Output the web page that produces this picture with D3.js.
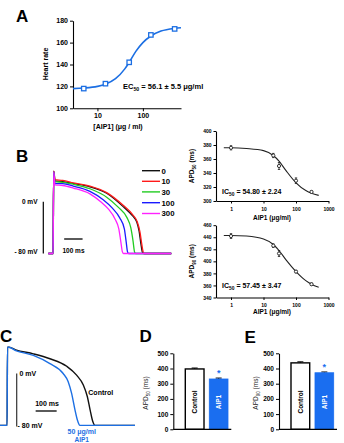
<!DOCTYPE html>
<html><head><meta charset="utf-8">
<script src="https://cdn.jsdelivr.net/npm/d3@7"></script>
<style>
html,body{margin:0;padding:0;background:#fff;}
svg{display:block;font-family:Arial,"Liberation Sans",sans-serif;}
</style></head><body>
<svg id="c" width="344" height="443"></svg>
<script>
// ---------- Panel A data ----------
const hrConc = [5, 15, 50, 150, 500];
const hrValues = [118, 122.5, 142, 167, 172.5];
const hrErr = [1, 1, 1.5, 1.5, 1.5];
const hrFitConc = [2.9, 5, 10, 15, 25, 40, 50, 70, 100, 150, 250, 500, 690];
const hrFitValues = [118, 118.5, 120, 122, 127, 136, 142, 152, 160, 166, 170.5, 173, 173.5];
const hrYTicks = [100, 120, 140, 160, 180];
const hrXTicks = [10, 100];

// ---------- Panel B traces (ms, mV) ----------
const bLegend = ["0", "10", "30", "100", "300"];
const bColors = ["#111111", "#ff1a1a", "#22cc22", "#1a1aff", "#ff22ff"];
const trace0 = [[-28,-80],[-2,-80],[1,47],[4,42],[8,32],[50,31],[108,28],[198,23],[289,13],[380,-8],[430,-22],[452,-31],[465,-45],[475,-65],[483,-78],[490,-80],[640,-80]];
const trace10 = [[-28,-80],[-2,-80],[1,47],[4,43],[8,34],[50,33],[108,29],[198,24],[289,14],[380,-6],[430,-20],[455,-31],[470,-47],[480,-66],[488,-78],[495,-80],[640,-80]];
const trace30 = [[-28,-80],[-2,-80],[1,46],[4,40],[8,31],[50,30],[108,27],[198,20],[289,7],[350,-8],[400,-25],[420,-40],[432,-60],[440,-77],[446,-80],[640,-80]];
const trace100 = [[-28,-80],[-2,-80],[1,46],[4,39],[8,28],[50,28],[108,24],[198,16],[270,3],[320,-10],[360,-25],[385,-42],[395,-62],[402,-77],[408,-80],[640,-80]];
const trace300 = [[-28,-80],[-2,-80],[1,46],[4,38],[8,26],[50,25],[108,21],[198,12],[260,-1],[300,-12],[335,-27],[355,-42],[366,-62],[374,-77],[380,-80],[640,-80]];
const bTraces = [trace0, trace10, trace30, trace100, trace300];

// ---------- Panel B dose-response ----------
const drConc = [1, 20, 30, 100, 300];
const apd50Values = [376, 365, 350, 329, 313];
const apd50Err = [3, 3, 5, 4, 1.5];
const apd90Values = [442, 426, 413, 383, 362];
const apd90Err = [4, 3, 5, 2, 2];
const fitConc = [0.6, 1, 3, 10, 20, 30, 50, 100, 200, 300, 500];
const apd50Fit = [376, 376, 375, 372, 365, 357, 343, 326, 315, 311, 308];
const apd90Fit = [443, 443, 442, 437, 428, 418, 402, 383, 368, 362, 357];
const drXTicks = [1, 10, 100, 1000];
const apd50Ticks = [300, 320, 340, 360, 380, 400];
const apd90Ticks = [340, 360, 380, 400, 420, 440, 460];

// ---------- Panel C traces ----------
const cControl = [[-40,-79],[-1,-79],[1,40],[8,40],[40,36],[124,30],[203,22.5],[283,11],[330,-2.5],[362,-17.5],[381,-35],[394,-55],[406,-72],[417,-79],[608,-79]];
const cAIP1 = [[-40,-79],[-1,-79],[1,40],[8,40],[40,35],[124,27.5],[203,15],[266,0],[290,-12.5],[306,-30],[322,-55],[333,-70],[346,-79],[608,-79]];

// ---------- Panels D / E ----------
const barGroups = ["Control", "AIP1"];
const dValues = [397, 331];
const dErr = [6, 6];
const eValues = [437, 372];
const eErr = [7, 5];
const barTicks = [0, 100, 200, 300, 400, 500];

const BLUE = "#1c6fe3";
const BARBLUE = "#1a6ef0";
const svg = d3.select("#c");
svg.append("rect").attr("width",344).attr("height",443).attr("fill","#fff");

function styleAxis(g, fs, bold=true) {
  g.select(".domain").attr("stroke","#000").attr("stroke-width",1.1);
  g.selectAll(".tick line").attr("stroke","#000").attr("stroke-width",1);
  g.selectAll(".tick text").attr("fill","#000").attr("font-size",fs)
    .attr("font-weight", bold ? "bold" : "normal").attr("font-family","Arial, 'Liberation Sans', sans-serif");
}
function letter(t, x, y) {
  svg.append("text").attr("x",x).attr("y",y).text(t)
    .attr("font-size",17).attr("font-weight","bold").attr("fill","#000");
}
function subText(g, x, y, pre, sub, post, fs, opts={}) {
  const t = g.append("text").attr("x",x).attr("y",y).attr("font-size",fs)
    .attr("font-weight", opts.weight || "bold").attr("fill", opts.fill || "#000")
    .attr("text-anchor", opts.anchor || "start");
  if (opts.rotate) t.attr("transform",`rotate(-90 ${x} ${y})`);
  t.append("tspan").text(pre);
  t.append("tspan").text(sub).attr("font-size",fs*0.7).attr("dy",fs*0.3);
  t.append("tspan").text(post).attr("dy",-fs*0.3);
  return t;
}

// ================= Panel A =================
letter("A", 16, 22);
{
  const x = d3.scaleLog().domain([2.9, 690]).range([73, 181]);
  const y = d3.scaleLinear().domain([100, 180]).range([108.3, 20.7]);
  const g = svg.append("g");
  const ya = g.append("g").attr("transform","translate(73,0)")
    .call(d3.axisLeft(y).tickValues(hrYTicks).tickSize(3).tickPadding(2).tickSizeOuter(0));
  styleAxis(ya, 7);
  const xa = g.append("g").attr("transform","translate(0,108.3)")
    .call(d3.axisBottom(x).tickValues(hrXTicks).tickFormat(d3.format("d")).tickSize(3).tickPadding(2).tickSizeOuter(0));
  styleAxis(xa, 7);
  const fit = hrFitConc.map((c,i)=>[c, hrFitValues[i]]);
  g.append("path").datum(fit).attr("fill","none").attr("stroke",BLUE).attr("stroke-width",1.6)
    .attr("d", d3.line().x(d=>x(d[0])).y(d=>y(d[1])).curve(d3.curveMonotoneX));
  hrConc.forEach((c,i)=>{
    g.append("line").attr("x1",x(c)).attr("x2",x(c))
      .attr("y1",y(hrValues[i]-hrErr[i])).attr("y2",y(hrValues[i]+hrErr[i]))
      .attr("stroke",BLUE).attr("stroke-width",1);
    g.append("rect").attr("x",x(c)-2.2).attr("y",y(hrValues[i])-2.2).attr("width",4.4).attr("height",4.4)
      .attr("fill","#fff").attr("stroke",BLUE).attr("stroke-width",1.3);
  });
  g.append("text").attr("transform","translate(46,64) rotate(-90)").attr("text-anchor","middle")
    .attr("dy","0.35em").attr("font-size",7).attr("font-weight","bold").text("Heart rate");
  g.append("text").attr("x",118).attr("y",127).attr("text-anchor","middle").attr("dy","0.35em")
    .attr("font-size",7).attr("font-weight","bold").text("[AIP1] (μg / ml)");
  subText(g, 123, 88.5, "EC", "50", " = 56.1 ± 5.5 μg/ml", 7.5);
}

// ================= Panel B traces =================
letter("B", 16, 162);
{
  const t = d3.scaleLinear().domain([0, 100]).range([53.5, 71.9]);
  const v = d3.scaleLinear().domain([-80, 0]).range([253.5, 201.7]);
  const g = svg.append("g");
  const line = d3.line().x(d=>t(d[0])).y(d=>v(d[1])).curve(d3.curveMonotoneX);
  bTraces.forEach((tr,i)=>{
    g.append("path").datum(tr).attr("fill","none").attr("stroke",bColors[i]).attr("stroke-width",1.3).attr("d",line);
  });
  const ly = [170.7, 181.3, 191.9, 202.7, 213.5];
  bLegend.forEach((lab,i)=>{
    g.append("line").attr("x1",142).attr("x2",160).attr("y1",ly[i]).attr("y2",ly[i])
      .attr("stroke",bColors[i]).attr("stroke-width",1.4);
    g.append("text").attr("x",161.5).attr("y",ly[i]).attr("dy","0.36em").attr("font-size",7.8)
      .attr("font-weight","bold").text(lab);
  });
  g.append("line").attr("x1",43.3).attr("x2",43.3).attr("y1",v(0)).attr("y2",v(-80)).attr("stroke","#000").attr("stroke-width",1.2);
  g.append("line").attr("x1",t(58)).attr("x2",t(158)).attr("y1",239).attr("y2",239).attr("stroke","#000").attr("stroke-width",1.3);
  g.append("text").attr("x",37.5).attr("y",v(0)).attr("dy","0.35em").attr("text-anchor","end").attr("font-size",6.5).attr("font-weight","bold").text("0 mV");
  g.append("text").attr("x",37.5).attr("y",252).attr("dy","0.35em").attr("text-anchor","end").attr("font-size",6.5).attr("font-weight","bold").text("- 80 mV");
  g.append("text").attr("x",73.5).attr("y",251).attr("dy","0.35em").attr("text-anchor","middle").attr("font-size",6.5).attr("font-weight","bold").text("100 ms");
}

// ================= Panel B dose-response =================
function drChart(yDom, yRange, ticks, vals, errs, fitVals, labSub, icText, icY, xLabY) {
  const x = d3.scaleLog().domain([0.345, 1000]).range([216, 328.5]);
  const y = d3.scaleLinear().domain(yDom).range(yRange);
  const g = svg.append("g");
  const ya = g.append("g").attr("transform","translate(216,0)")
    .call(d3.axisLeft(y).tickValues(ticks).tickSize(2.5).tickPadding(2).tickSizeOuter(0));
  styleAxis(ya, 5);
  const xa = g.append("g").attr("transform",`translate(0,${yRange[0]})`)
    .call(d3.axisBottom(x).tickValues(drXTicks).tickFormat(d3.format("d")).tickSize(2.5).tickPadding(3.5).tickSizeOuter(0));
  styleAxis(xa, 5);
  const fit = fitConc.map((c,i)=>[c, fitVals[i]]);
  g.append("path").datum(fit).attr("fill","none").attr("stroke","#222").attr("stroke-width",1.1)
    .attr("d", d3.line().x(d=>x(d[0])).y(d=>y(d[1])).curve(d3.curveMonotoneX));
  drConc.forEach((c,i)=>{
    g.append("line").attr("x1",x(c)).attr("x2",x(c)).attr("y1",y(vals[i]-errs[i])).attr("y2",y(vals[i]+errs[i]))
      .attr("stroke","#222").attr("stroke-width",0.9);
    [vals[i]-errs[i], vals[i]+errs[i]].forEach(e=>{
      g.append("line").attr("x1",x(c)-1.2).attr("x2",x(c)+1.2).attr("y1",y(e)).attr("y2",y(e)).attr("stroke","#222").attr("stroke-width",0.8);
    });
    g.append("circle").attr("cx",x(c)).attr("cy",y(vals[i])).attr("r",1.6)
      .attr("fill","#fff").attr("stroke","#222").attr("stroke-width",0.9);
  });
  subText(g, 192, (yRange[0]+yRange[1])/2, "APD", labSub, " (ms)", 6.5, {rotate:true, anchor:"middle"})
    .attr("dy","0.35em");
  subText(g, 222, icY, "IC", "50", icText, 7);
  g.append("text").attr("x",272).attr("y",xLabY).attr("dy","0.35em").attr("text-anchor","middle")
    .attr("font-size",6.5).attr("font-weight","bold").text("AIP1 (μg/ml)");
}
drChart([300, 400], [201, 131], apd50Ticks, apd50Values, apd50Err, apd50Fit, "50", " = 54.80 ± 2.24", 194, 218);
drChart([340, 460], [297.5, 225.2], apd90Ticks, apd90Values, apd90Err, apd90Fit, "90", " = 57.45 ± 3.47", 287.5, 311.5);

// ================= Panel C =================
letter("C", 0, 342);
{
  const t = d3.scaleLinear().domain([0, 100]).range([7.3, 28.3]);
  const v = d3.scaleLinear().domain([-80, 0]).range([426, 373.5]);
  const g = svg.append("g");
  const line = d3.line().x(d=>t(d[0])).y(d=>v(d[1])).curve(d3.curveMonotoneX);
  g.append("path").datum(cControl).attr("fill","none").attr("stroke","#111").attr("stroke-width",1.4).attr("d",line);
  g.append("path").datum(cAIP1).attr("fill","none").attr("stroke",BLUE).attr("stroke-width",1.4).attr("d",line);
  g.append("line").attr("x1",16.7).attr("x2",16.7).attr("y1",v(0)).attr("y2",v(-80)+0.5).attr("stroke","#333").attr("stroke-width",1.2);
  g.append("line").attr("x1",t(135)).attr("x2",t(235)).attr("y1",411).attr("y2",411).attr("stroke","#000").attr("stroke-width",1.3);
  g.append("text").attr("x",19.5).attr("y",v(0)).attr("dy","0.35em").attr("font-size",7).attr("font-weight","bold").text("0 mV");
  g.append("text").attr("x",17.5).attr("y",426).attr("dy","0.35em").attr("font-size",7).attr("font-weight","bold").text("- 80 mV");
  g.append("text").attr("x",47).attr("y",406).attr("text-anchor","middle").attr("font-size",7).attr("font-weight","bold").text("100 ms");
  g.append("text").attr("x",88.3).attr("y",392.7).attr("dy","0.35em").attr("font-size",7).attr("font-weight","bold").text("Control");
  g.append("text").attr("x",81.7).attr("y",432).attr("dy","0.35em").attr("text-anchor","middle").attr("font-size",7).attr("font-weight","bold").attr("fill",BLUE).text("50 μg/ml");
  g.append("text").attr("x",81.7).attr("y",439.5).attr("dy","0.35em").attr("text-anchor","middle").attr("font-size",6.5).attr("font-weight","bold").attr("fill",BLUE).text("AIP1");
}

// ================= Panels D & E =================
function barChart(axisX, vals, errs, labSub, labX) {
  const y = d3.scaleLinear().domain([0, 500]).range([429.3, 353.3]);
  const x = d3.scaleBand().domain(barGroups).range([axisX, axisX + 66.7]).paddingInner(0.22).paddingOuter(0.5);
  const g = svg.append("g");
  const ya = g.append("g").attr("transform",`translate(${axisX},0)`)
    .call(d3.axisLeft(y).tickValues(barTicks).tickSize(3).tickPadding(2).tickSizeOuter(0));
  styleAxis(ya, 6.5);
  barGroups.forEach((grp,i)=>{
    const bx = x(grp), bw = x.bandwidth();
    const cx = bx + bw/2;
    g.append("line").attr("x1",cx).attr("x2",cx).attr("y1",y(vals[i])).attr("y2",y(vals[i]+errs[i])).attr("stroke","#111").attr("stroke-width",1);
    g.append("line").attr("x1",cx-3).attr("x2",cx+3).attr("y1",y(vals[i]+errs[i])).attr("y2",y(vals[i]+errs[i])).attr("stroke","#111").attr("stroke-width",1.1);
    if (i === 0) {
      g.append("rect").attr("x",bx).attr("y",y(vals[i])).attr("width",bw).attr("height",y(0)-y(vals[i]))
        .attr("fill","#fff").attr("stroke","#000").attr("stroke-width",1.4);
    } else {
      g.append("rect").attr("x",bx).attr("y",y(vals[i])).attr("width",bw).attr("height",y(0)-y(vals[i]))
        .attr("fill",BARBLUE).attr("stroke",BARBLUE).attr("stroke-width",0.8);
      g.append("text").attr("x",cx).attr("y",y(vals[i]+errs[i])-2).attr("text-anchor","middle")
        .attr("font-size",9).attr("font-weight","bold").attr("fill",BARBLUE).text("*");
    }
    g.append("text").attr("transform",`translate(${cx},402) rotate(-90)`).attr("text-anchor","middle").attr("dy","0.35em")
      .attr("font-size",6.5).attr("font-weight","bold").attr("fill", i===0 ? "#000" : "#fff").text(grp);
  });
  g.append("line").attr("x1",axisX).attr("x2",axisX+58).attr("y1",y(0)).attr("y2",y(0)).attr("stroke","#000").attr("stroke-width",1.2);
  subText(g, labX, 393, "APD", labSub, " (ms)", 6.5, {rotate:true, anchor:"middle", weight:"normal", fill:"#222"}).attr("dy","0.35em");
}
letter("D", 139.5, 342);
barChart(173.3, dValues, dErr, "50", 146);
letter("E", 244.5, 343);
barChart(279, eValues, eErr, "90", 256);
</script>
</body></html>
